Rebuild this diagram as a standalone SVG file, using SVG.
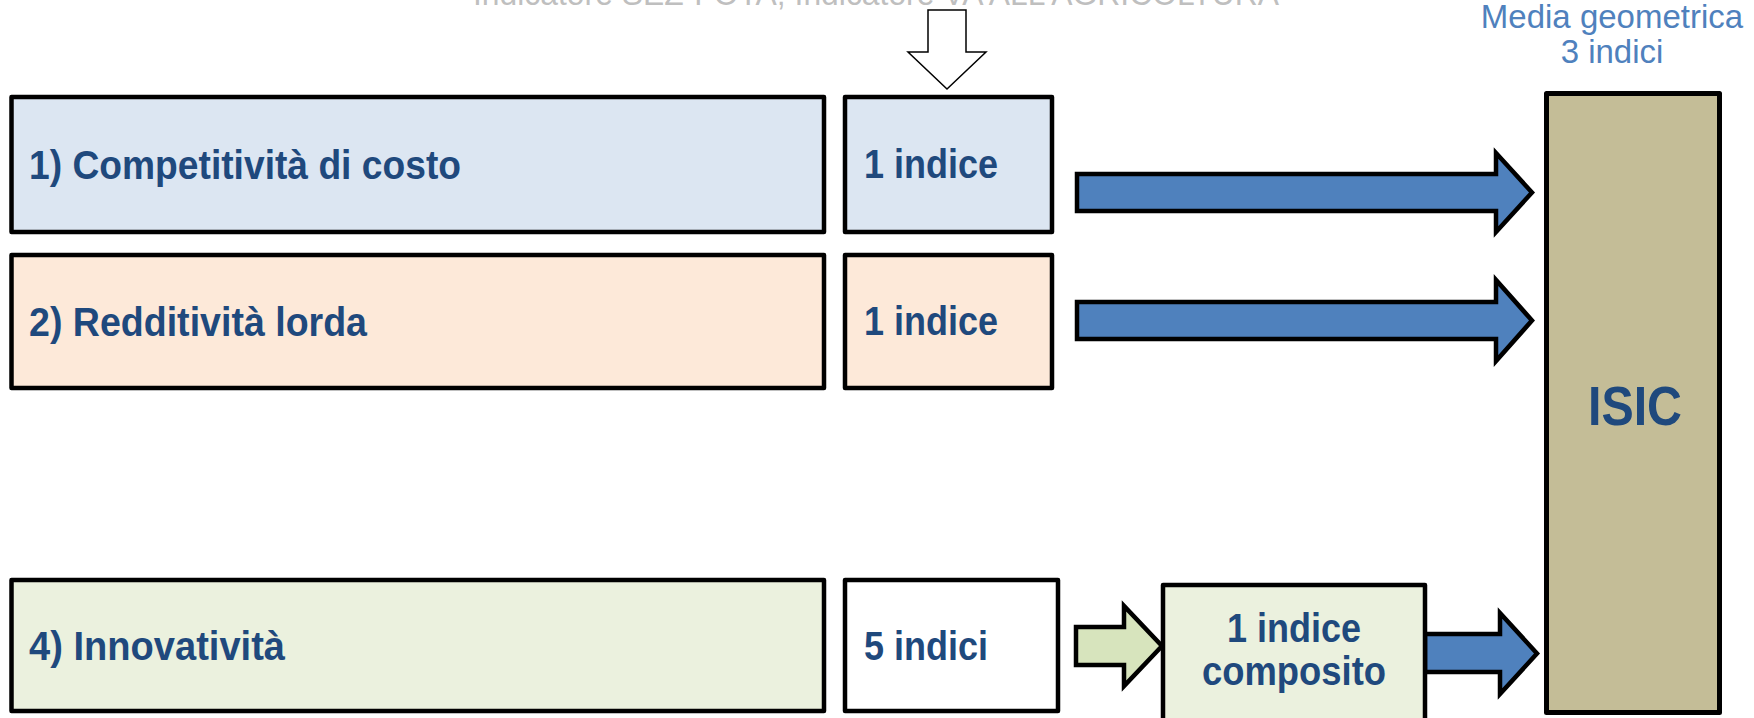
<svg xmlns="http://www.w3.org/2000/svg" width="1754" height="718" viewBox="0 0 1754 718">
<style>
.box{stroke:#000;stroke-width:4.5;stroke-linejoin:round}
.arr{stroke:#000;stroke-width:4.5;stroke-linejoin:miter;stroke-miterlimit:10}
.lbl{font-family:"Liberation Sans",Arial,sans-serif;font-weight:bold;font-size:40px;fill:#1f497d}
.note{font-family:"Liberation Sans",Arial,sans-serif;font-size:33px;fill:#4f81bd}
</style>
<rect width="1754" height="718" fill="#ffffff"/>
<g id="top-note">
<text class="note" x="473" y="4.5" textLength="806" lengthAdjust="spacingAndGlyphs" style="fill:#bfbfbf">Indicatore SEZ-FOTA; Indicatore VA ALL AGRICOLTURA</text>
</g>
<g id="media-note">
<text class="note" x="1612" y="28" text-anchor="middle">Media geometrica</text>
<text class="note" x="1612" y="63" text-anchor="middle">3 indici</text>
</g>
<g id="connectors">
<path class="arr" d="M1077,174 L1496,174 L1496,153 L1532,192.5 L1496,232 L1496,211 L1077,211 Z" fill="#4f81bd"/>
<path class="arr" d="M1077,302 L1496,302 L1496,280 L1532,320.5 L1496,361 L1496,339 L1077,339 Z" fill="#4f81bd"/>
<path class="arr" d="M1076,627 L1124,627 L1124,606 L1162,646 L1124,686 L1124,665 L1076,665 Z" fill="#d7e4bd"/>
<path class="arr" d="M1425,634 L1500,634 L1500,613 L1537,653.5 L1500,694 L1500,672 L1425,672 Z" fill="#4f81bd"/>
<path d="M928,10 L966,10 L966,52 L986,52 L947,89 L908,52 L928,52 Z" fill="#ffffff" stroke="#000" stroke-width="1.5"/>
</g>
<g id="n1">
<rect class="box" x="11.5" y="97" width="812.5" height="135" fill="#dce6f2"/>
<text class="lbl" x="29" y="179" textLength="432" lengthAdjust="spacingAndGlyphs">1) Competitività di costo</text>
</g>
<g id="n1i">
<rect class="box" x="845" y="97" width="207" height="135" fill="#dce6f2"/>
<text class="lbl" x="864" y="178" textLength="134" lengthAdjust="spacingAndGlyphs">1 indice</text>
</g>
<g id="n2">
<rect class="box" x="11.5" y="255" width="812.5" height="133" fill="#fde9d9"/>
<text class="lbl" x="29" y="336" textLength="338" lengthAdjust="spacingAndGlyphs">2) Redditività lorda</text>
</g>
<g id="n2i">
<rect class="box" x="845" y="255" width="207" height="133" fill="#fde9d9"/>
<text class="lbl" x="864" y="335" textLength="134" lengthAdjust="spacingAndGlyphs">1 indice</text>
</g>
<g id="n4">
<rect class="box" x="11.5" y="580" width="812.5" height="131" fill="#ebf1de"/>
<text class="lbl" x="29" y="660" textLength="256" lengthAdjust="spacingAndGlyphs">4) Innovatività</text>
</g>
<g id="n4i">
<rect class="box" x="845" y="580" width="213" height="131" fill="#ffffff"/>
<text class="lbl" x="864" y="660" textLength="124" lengthAdjust="spacingAndGlyphs">5 indici</text>
</g>
<g id="composite">
<rect class="box" x="1163" y="585" width="262" height="140" fill="#ebf1de"/>
<text class="lbl" x="1294" y="642" text-anchor="middle" textLength="134" lengthAdjust="spacingAndGlyphs">1 indice</text>
<text class="lbl" x="1294" y="685" text-anchor="middle" textLength="184" lengthAdjust="spacingAndGlyphs">composito</text>
</g>
<g id="isic">
<rect class="box" x="1546.5" y="93.5" width="173" height="619" fill="#c4bd97" style="stroke-width:5"/>
<text class="lbl" x="1635" y="425" text-anchor="middle" textLength="94" lengthAdjust="spacingAndGlyphs" style="font-size:56px">ISIC</text>
</g>
</svg>
